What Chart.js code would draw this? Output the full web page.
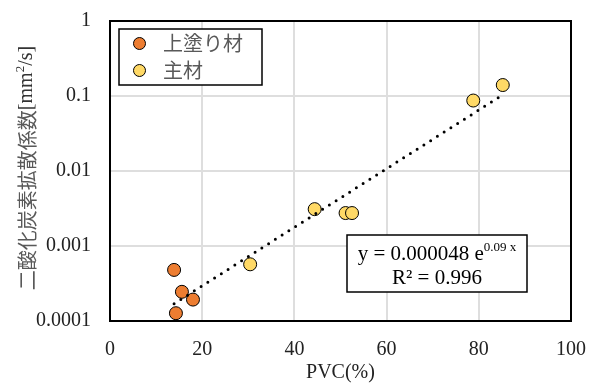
<!DOCTYPE html>
<html><head><meta charset="utf-8">
<script src="https://cdn.jsdelivr.net/npm/chart.js@4"></script>
<style>html,body{margin:0;padding:0;background:#fff}canvas{display:block}</style>
</head><body>
<canvas id="c" width="594" height="383"></canvas>
<script>
const seriesNames = ['上塗り材', '主材'];
const topcoatPVC = [13.9, 15.6, 18.0, 14.3];
const topcoatD   = [0.00048, 0.000245, 0.000193, 0.000127];
const basePVC    = [30.4, 44.4, 51.1, 52.5, 78.8, 85.2];
const baseD      = [0.00057, 0.0031, 0.00275, 0.00275, 0.087, 0.14];
const trendPVC   = [13.9, 85.0];
const trendD     = [0.00017, 0.102];
const xTicks = [0, 20, 40, 60, 80, 100];
const yTicks = [0.0001, 0.001, 0.01, 0.1, 1];
const yTickLabels = ['0.0001', '0.001', '0.01', '0.1', '1'];
const xTitle = 'PVC(%)';
const yTitleJa = '二酸化炭素拡散係数';
const eqMain = 'y = 0.000048 e';
const eqSup = '0.09 x';
const r2Text = 'R² = 0.996';

const SERIF = '"Liberation Serif", "Times New Roman", serif';
const CJK = '"Noto Sans CJK JP", "Noto Sans", sans-serif';
const ORANGE = '#ED7D31', YELLOW = '#FFD966';

const pts = (xs, ys) => xs.map((x, i) => ({x, y: ys[i]}));
const noPad = s => { s.paddingTop = 0; s.paddingBottom = 0; s.paddingLeft = 0; s.paddingRight = 0; };

const overlay = {
  id: 'overlay',
  beforeDatasetsDraw(chart) {
    const {ctx, chartArea: a} = chart;
    ctx.save();
    ctx.strokeStyle = '#000'; ctx.lineWidth = 2;
    ctx.strokeRect(a.left, a.top, a.right - a.left, a.bottom - a.top);
    ctx.restore();
  },
  afterDraw(chart) {
    const {ctx, chartArea: a} = chart;
    ctx.save();
    // legend
    ctx.fillStyle = '#fff';
    ctx.fillRect(119, 29, 143, 56);
    ctx.strokeStyle = '#000'; ctx.lineWidth = 1.5;
    ctx.strokeRect(119, 29, 143, 56);
    const lg = [[ORANGE, 43.5], [YELLOW, 70.5]];
    lg.forEach(([col, y], i) => {
      ctx.beginPath(); ctx.arc(139.5, y, 6, 0, Math.PI * 2);
      ctx.fillStyle = col; ctx.fill();
      ctx.lineWidth = 1; ctx.strokeStyle = '#000'; ctx.stroke();
      ctx.fillStyle = '#595959'; ctx.font = '20px ' + CJK;
      ctx.textBaseline = 'middle'; ctx.textAlign = 'left';
      ctx.fillText(seriesNames[i], 163, y);
    });
    // equation box
    ctx.fillStyle = '#fff';
    ctx.fillRect(347, 235, 180, 57);
    ctx.strokeStyle = '#000'; ctx.lineWidth = 1.5;
    ctx.strokeRect(347, 235, 180, 57);
    ctx.fillStyle = '#000'; ctx.textBaseline = 'alphabetic'; ctx.textAlign = 'left';
    ctx.font = '21px ' + SERIF;
    const w1 = ctx.measureText(eqMain).width;
    ctx.font = '13px ' + SERIF;
    const w2 = ctx.measureText(eqSup).width;
    const x0 = 437 - (w1 + w2) / 2;
    ctx.font = '21px ' + SERIF;
    ctx.fillText(eqMain, x0, 260);
    ctx.font = '13px ' + SERIF;
    ctx.fillText(eqSup, x0 + w1, 251);
    ctx.font = '21px ' + SERIF; ctx.textAlign = 'center';
    ctx.fillText(r2Text, 437, 284);
    // x title
    ctx.fillStyle = '#222'; ctx.font = '20px ' + SERIF; ctx.textBaseline = 'middle';
    ctx.fillText(xTitle, (a.left + a.right) / 2, 373);
    // y title (rotated)
    ctx.translate(27, 168); ctx.rotate(-Math.PI / 2);
    const segs = [
      [yTitleJa, '20px ' + CJK, '#595959', 0],
      ['[mm', '20px ' + SERIF, '#333', 0],
      ['2', '13px ' + SERIF, '#333', -6],
      ['/s]', '20px ' + SERIF, '#333', 0]
    ];
    let tot = 0;
    segs.forEach(s => { ctx.font = s[1]; s.w = ctx.measureText(s[0]).width; tot += s.w; });
    let cx = -tot / 2;
    ctx.textAlign = 'left'; ctx.textBaseline = 'middle';
    segs.forEach(s => { ctx.font = s[1]; ctx.fillStyle = s[2]; ctx.fillText(s[0], cx, s[3]); cx += s.w; });
    ctx.restore();
  }
};

new Chart(document.getElementById('c'), {
  type: 'scatter',
  data: {
    datasets: [
      { type: 'line', data: pts(trendPVC, trendD), showLine: true, pointRadius: 0,
        borderColor: '#000', borderWidth: 3, borderDash: [0, 8], borderCapStyle: 'round',
        fill: false, order: 0 },
      { label: seriesNames[0], data: pts(topcoatPVC, topcoatD), backgroundColor: ORANGE,
        borderColor: '#000', borderWidth: 1, pointRadius: 6.5, order: 1 },
      { label: seriesNames[1], data: pts(basePVC, baseD), backgroundColor: YELLOW,
        borderColor: '#000', borderWidth: 1, pointRadius: 6.5, order: 2 }
    ]
  },
  options: {
    responsive: false, animation: false, devicePixelRatio: 1,
    layout: { padding: { left: 0, right: 23, top: 21, bottom: 0 } },
    plugins: { legend: { display: false }, tooltip: { enabled: false } },
    scales: {
      x: {
        type: 'linear', min: 0, max: 100,
        afterBuildTicks: s => { s.ticks = xTicks.map(v => ({value: v})); },
        afterFit: s => { s.height = 62; noPad(s); },
        grid: { color: '#dedede', lineWidth: 2, drawTicks: false },
        border: { display: false },
        ticks: { font: { family: SERIF, size: 20 }, color: '#222', padding: 17, maxRotation: 0 }
      },
      y: {
        type: 'logarithmic', min: 0.0001, max: 1,
        afterBuildTicks: s => { s.ticks = yTicks.map(v => ({value: v})); },
        afterFit: s => { s.width = 110; noPad(s); },
        grid: { color: '#dedede', lineWidth: 2, drawTicks: false },
        border: { display: false },
        ticks: { font: { family: SERIF, size: 20 }, color: '#222', padding: 19,
          callback: (v, i) => yTickLabels[i] }
      }
    }
  },
  plugins: [overlay]
});
</script>
</body></html>
